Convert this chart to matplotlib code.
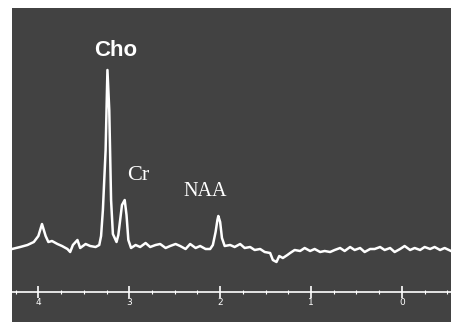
import matplotlib
matplotlib.use("Agg")
import matplotlib.pyplot as plt
from matplotlib.ticker import MultipleLocator

# -----------------------------
# Спектр (ppm, амплитуда)
# -----------------------------

ppm = [4.29, 4.20, 4.12, 4.05, 4.00, 3.96, 3.92, 3.89, 3.85, 3.79,
       3.74, 3.68, 3.65, 3.62, 3.57, 3.54, 3.48, 3.43, 3.37, 3.33,
       3.31, 3.29, 3.26, 3.24, 3.22, 3.20, 3.18, 3.14, 3.12, 3.10,
       3.08, 3.05, 3.03, 3.01, 2.98, 2.93, 2.88, 2.82, 2.77, 2.71,
       2.66, 2.60, 2.55, 2.49, 2.44, 2.38, 2.33, 2.27, 2.22, 2.16,
       2.11, 2.08, 2.05, 2.03, 2.02, 2.00, 1.98, 1.95, 1.89, 1.84,
       1.78, 1.73, 1.67, 1.62, 1.56, 1.51, 1.45, 1.42, 1.38, 1.35,
       1.31, 1.26, 1.23, 1.18, 1.12, 1.07, 1.01, 0.96, 0.90, 0.85,
       0.79, 0.74, 0.68, 0.63, 0.57, 0.52, 0.46, 0.41, 0.35, 0.30,
       0.24, 0.19, 0.13, 0.08, 0.02, -0.03, -0.09, -0.14, -0.20, -0.25,
       -0.31, -0.36, -0.42, -0.47, -0.54]

signal = [-1, 1, 3, 6, 12, 24, 12, 6, 7, 4,
          2, -1, -4, 3, 8, 0, 4, 2, 1, 3,
          12, 38, 98, 178, 138, 48, 14, 6, 13, 28,
          43, 48, 33, 8, 0, 3, 1, 5, 1, 3,
          4, -0, 2, 4, 2, -1, 4, 0, 2, -1,
          -1, 3, 16, 28, 32, 26, 10, 2, 3, 1,
          4, 0, 1, -2, -1, -4, -5, -12, -14, -8,
          -10, -7, -5, -2, -3, 0, -3, -1, -4, -3,
          -4, -2, 0, -3, 1, -2, 0, -4, -1, -1,
          1, -2, 0, -4, -1, 2, -2, 0, -2, 1,
          -1, 1, -2, 0, -3]

peak_names = ["Cho", "Cr", "NAA"]
peak_ppm = [3.15, 2.90, 2.16]
peak_y = [198, 73, 56]

tick_ppm = [4, 3, 2, 1, 0]

# -----------------------------
# График
# -----------------------------

fig = plt.figure(figsize=(4.51, 3.25), dpi=100, facecolor="white")
ax = fig.add_axes([12 / 451, 3 / 325, 439 / 451, 314 / 325])
ax.set_facecolor("#424242")

ax.plot(ppm, signal, color="white", lw=1.8)

ax.set_xlim(4.29, -0.54)
ax.set_ylim(-74, 240)

# ось ppm внутри панели
for s in ["top", "left", "right"]:
    ax.spines[s].set_visible(False)
ax.spines["bottom"].set_position(("data", -44))
ax.spines["bottom"].set_color("white")
ax.spines["bottom"].set_linewidth(1.2)

ax.set_xticks(tick_ppm)
ax.set_xticklabels([str(t) for t in tick_ppm])
ax.xaxis.set_minor_locator(MultipleLocator(0.25))
ax.tick_params(axis="x", which="major", direction="inout", length=8, width=1.2,
               colors="white", labelsize=6.5, pad=0)
ax.tick_params(axis="x", which="minor", direction="inout", length=3, width=0.8,
               colors="white")
ax.set_yticks([])

ax.text(peak_ppm[0], peak_y[0], peak_names[0], color="white", fontsize=16,
        fontweight="bold", family="Liberation Sans", ha="center", va="center")
ax.text(peak_ppm[1], peak_y[1], peak_names[1], color="white", fontsize=16,
        family="Liberation Serif", ha="center", va="center")
ax.text(peak_ppm[2], peak_y[2], peak_names[2], color="white", fontsize=14.5,
        family="Liberation Serif", ha="center", va="center")

plt.savefig("out.png", dpi=100, facecolor="white")
